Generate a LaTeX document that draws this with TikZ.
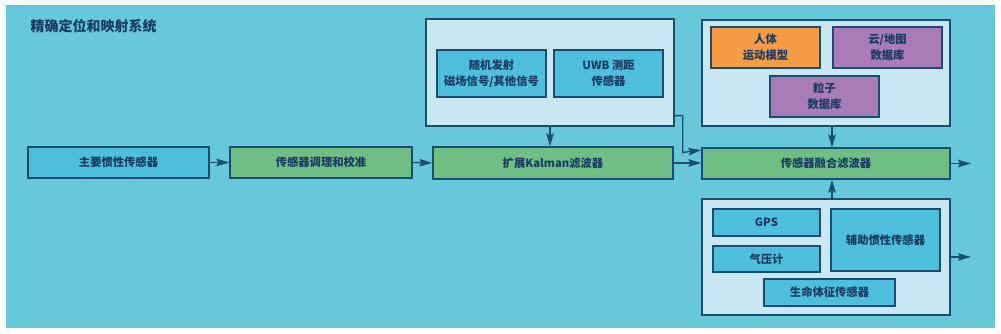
\documentclass[tikz,border=0pt]{standalone}
\usepackage{fontspec}
\setmainfont{Noto Sans CJK SC}
\usetikzlibrary{arrows.meta}
\definecolor{bgteal}{HTML}{67C8DB}
\definecolor{lightc}{HTML}{C8E7F1}
\definecolor{bluebox}{HTML}{4EBEDD}
\definecolor{greenbox}{HTML}{6FBE83}
\definecolor{orangebox}{HTML}{F59A45}
\definecolor{purplebox}{HTML}{A97BB7}
\definecolor{bordc}{HTML}{1B4C72}
\definecolor{txtc}{HTML}{1A3B63}
\tikzset{
  base/.style={draw=bordc, line width=1.3pt, inner sep=0pt, align=center,
    text=txtc, font=\fontsize{11.3}{16}\selectfont\bfseries},
  bluen/.style={base, fill=bluebox},
  greenn/.style={base, fill=greenbox},
  orangen/.style={base, fill=orangebox},
  purplen/.style={base, fill=purplebox},
  contn/.style={base, fill=lightc},
  arr/.style={draw=bordc, line width=1.3pt, -{Stealth[length=13pt,width=7.5pt,inset=2pt]}},
}
\begin{document}
\begin{tikzpicture}[x=1pt,y=-1pt]
\useasboundingbox (0,0) rectangle (1001,334);
\fill[white] (0,0) rectangle (1001,334);
\fill[bgteal] (6,5) rectangle (995,328);
\node[anchor=west, text=txtc, font=\fontsize{14}{16}\selectfont\bfseries] (title) at (27,26) {精确定位和映射系统};
% containers
\node[contn, minimum width=248pt, minimum height=107pt] (topc) at (550,72.5) {};
\node[contn, minimum width=248pt, minimum height=106pt] (rtc) at (826,73) {};
\node[contn, minimum width=248pt, minimum height=116pt] (botc) at (826,257) {};
% main chain
\node[bluen, minimum width=181pt, minimum height=31pt] (main) at (118.5,162.5) {主要惯性传感器};
\node[greenn, minimum width=182pt, minimum height=31pt] (cond) at (321,162.5) {传感器调理和校准};
\node[greenn, minimum width=240pt, minimum height=32pt] (kal) at (553,163) {扩展Kalman滤波器};
\node[greenn, minimum width=248pt, minimum height=31pt] (fus) at (826,163.5) {传感器融合滤波器};
% top left container contents
\node[bluen, minimum width=109pt, minimum height=47pt] (rand) at (491.5,73.5) {随机发射\\磁场信号/其他信号};
\node[bluen, minimum width=109pt, minimum height=47pt] (uwb) at (608.5,73.5) {UWB 测距\\传感器};
% top right container contents
\node[orangen, minimum width=109pt, minimum height=41pt] (human) at (765.5,47.5) {人体\\运动模型};
\node[purplen, minimum width=109pt, minimum height=41pt] (cloud) at (887.5,47.5) {云/地图\\数据库};
\node[purplen, minimum width=109pt, minimum height=41pt] (part) at (824.5,96.5) {粒子\\数据库};
% bottom container contents
\node[bluen, minimum width=107pt, minimum height=27pt] (gps) at (766.5,222.5) {GPS};
\node[bluen, minimum width=107pt, minimum height=26pt] (baro) at (766.5,259) {气压计};
\node[bluen, minimum width=109pt, minimum height=62pt] (aux) at (885.5,240) {辅助惯性传感器};
\node[bluen, minimum width=131pt, minimum height=27pt] (vital) at (829.5,292.5) {生命体征传感器};
% output coordinates
\coordinate (out1) at (971,163.5);
\coordinate (out2) at (971,257);
% connectors
\draw[arr] (main.east) -- (cond.west);
\draw[arr] (cond.east) -- (kal.west);
\draw[arr] (topc.south) -- (topc.south |- kal.north);
\draw[arr] ([yshift=11pt]topc.south east) -| ([xshift=8pt,yshift=11pt]topc.south east |- fus.west) -- ([yshift=13.5pt]fus.west);
\draw[arr] (kal.east) -- (kal.east -| fus.west);
\draw[arr] ([xshift=6pt]rtc.south) -- ([xshift=6pt]fus.north);
\draw[arr] ([xshift=6pt]botc.north) -- ([xshift=6pt]fus.south);
\draw[arr] (fus.east) -- (out1);
\draw[arr] (botc.east) -- (out2);
\end{tikzpicture}
\end{document}
